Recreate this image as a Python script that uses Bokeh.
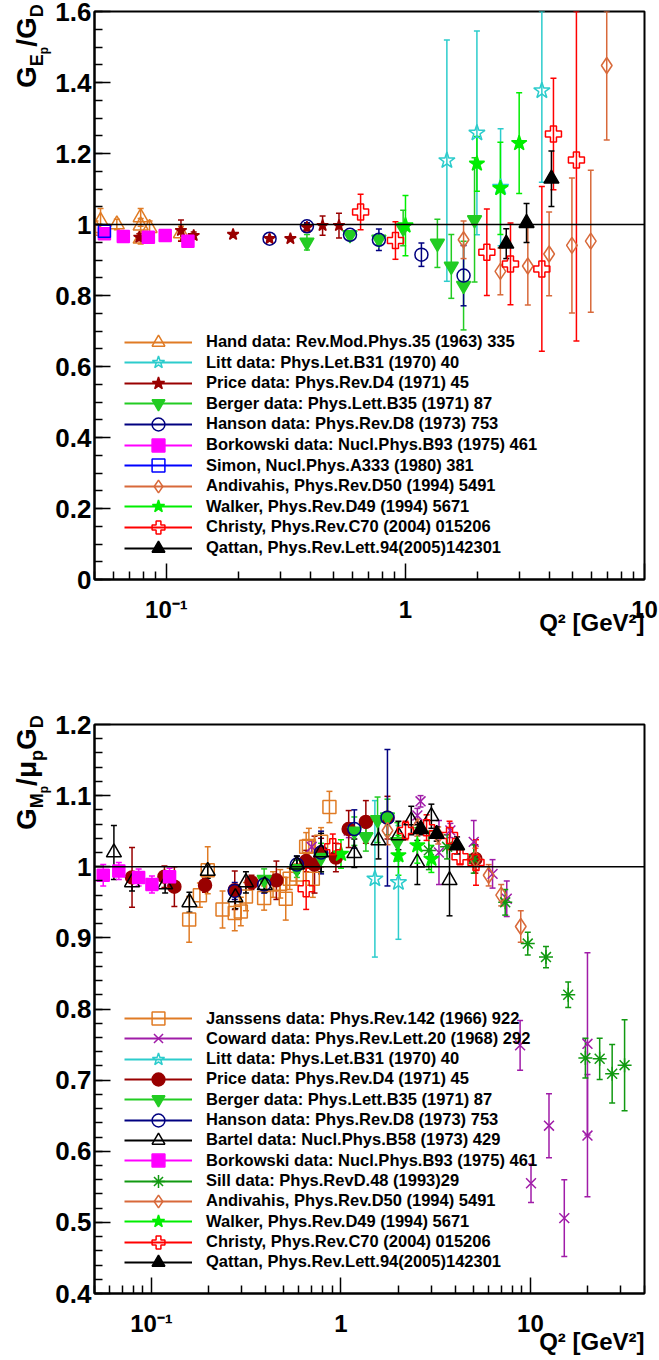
import numpy as np
from bokeh.plotting import figure
from bokeh.models import (Range1d, FixedTicker, Whisker, TeeHead, ColumnDataSource,
                          Legend, LegendItem, Span, Title, Div)
from bokeh.layouts import column, row
from bokeh.embed import file_html
from bokeh.resources import INLINE

FONT = "Liberation Sans"

# ---------------- G_E / G_D  (upper panel) ----------------
ge_hand_q2 = [0.0505, 0.053, 0.062, 0.078, 0.078, 0.078, 0.085, 0.115]
ge_hand = [0.99, 1.01, 1.00, 1.02, 0.997, 0.96, 0.99, 0.975]
ge_hand_err = [0.02, 0.035, 0.015, 0.025, 0.02, 0.015, 0.02, 0.02]

ge_litt_q2 = [1.49, 1.99, 2.50, 3.72]
ge_litt = [1.180, 1.258, 1.105, 1.377]
ge_litt_err = [0.34, 0.287, 0.165, 0.258]

ge_price_q2 = [0.077, 0.115, 0.130, 0.190, 0.270, 0.330, 0.387, 0.450, 0.527]
ge_price = [0.964, 0.983, 0.969, 0.972, 0.960, 0.960, 0.992, 0.997, 0.997]
ge_price_err = [0.01, 0.03, 0.01, 0.005, 0.005, 0.005, 0.01, 0.027, 0.035]

ge_berger_q2 = [0.387, 0.586, 0.774, 0.978, 1.36, 1.555, 1.75, 1.945]
ge_berger = [0.950, 0.971, 0.958, 0.990, 0.947, 0.882, 0.828, 1.013]
ge_berger_err = [0.022, 0.01, 0.015, 0.05, 0.068, 0.09, 0.125, 0.175]

ge_hanson_q2 = [0.270, 0.387, 0.586, 0.774, 1.166, 1.75]
ge_hanson = [0.960, 0.995, 0.971, 0.957, 0.915, 0.856]
ge_hanson_err = [0.005, 0.01, 0.008, 0.03, 0.033, 0.085]

ge_bork_q2 = [0.055, 0.066, 0.084, 0.0988, 0.123]
ge_bork = [0.974, 0.966, 0.964, 0.969, 0.953]
ge_bork_err = [0.005, 0.005, 0.005, 0.005, 0.005]

ge_simon_q2 = [0.055]
ge_simon = [0.981]
ge_simon_err = [0.005]

ge_andiv_q2 = [1.75, 2.495, 3.25, 3.99, 4.97, 5.96, 6.95]
ge_andiv = [0.957, 0.868, 0.883, 0.917, 0.941, 0.953, 1.448]
ge_andiv_err = [0.053, 0.066, 0.11, 0.118, 0.19, 0.2, 0.21]

ge_walker_q2 = [1.0, 1.99, 2.495, 2.99]
ge_walker = [0.997, 1.171, 1.102, 1.229]
ge_walker_err = [0.085, 0.077, 0.13, 0.142]

ge_christy_q2 = [0.649, 0.908, 2.19, 2.75, 3.72, 4.16, 5.19]
ge_christy = [1.035, 0.955, 0.922, 0.889, 0.875, 1.255, 1.182]
ge_christy_err = [0.05, 0.053, 0.122, 0.115, 0.232, 0.157, 0.51]

ge_qattan_q2 = [2.64, 3.21, 4.08]
ge_qattan = [0.946, 1.004, 1.129]
ge_qattan_err = [0.042, 0.055, 0.078]

# ---------------- G_M / (mu_p G_D)  (lower panel) ----------------
gm_jans_q2 = [0.158, 0.180, 0.198, 0.237, 0.275, 0.296, 0.315, 0.393, 0.438, 0.478,
              0.511, 0.536, 0.585, 0.655, 0.677, 0.71, 0.785, 0.869]
gm_jans = [0.926, 0.960, 0.995, 0.940, 0.935, 0.937, 0.958, 0.956, 0.975, 0.976,
           0.955, 0.983, 0.989, 1.028, 1.029, 0.983, 1.035, 1.084]
gm_jans_err = [0.032, 0.017, 0.033, 0.026, 0.025, 0.02, 0.02, 0.017, 0.018, 0.02,
               0.03, 0.015, 0.015, 0.02, 0.025, 0.026, 0.02, 0.022]

gm_coward_q2 = [0.70, 1.10, 2.53, 2.63, 3.29, 3.78, 5.02, 6.31, 7.5, 8.82, 10.07, 12.53, 15.09, 20.0, 20.0]
gm_coward = [1.028, 1.051, 1.072, 1.092, 1.020, 1.051, 1.035, 0.990, 0.955, 0.749, 0.555, 0.636, 0.506, 0.751, 0.622]
gm_coward_err = [0.008, 0.01, 0.01, 0.008, 0.045, 0.01, 0.03, 0.02, 0.025, 0.035, 0.027, 0.045, 0.054, 0.128, 0.086]

gm_litt_q2 = [1.51, 2.01]
gm_litt = [0.983, 0.978]
gm_litt_err = [0.11, 0.08]

gm_price_q2 = [0.0789, 0.117, 0.132, 0.1916, 0.275, 0.337, 0.456, 0.655, 0.725, 0.785, 0.94, 1.098, 1.353, 1.759, 5.12]
gm_price = [0.985, 0.986, 0.972, 0.974, 0.967, 0.978, 0.981, 1.008, 1.003, 1.020, 1.013, 1.053, 1.063, 1.069, 1.011]
gm_price_err = [0.042, 0.015, 0.028, 0.01, 0.027, 0.01, 0.027, 0.015, 0.04, 0.02, 0.02, 0.026, 0.03, 0.03, 0.02]

gm_berger_q2 = [0.393, 0.585, 0.785, 1.176, 1.353, 1.56, 1.759, 1.985]
gm_berger = [0.982, 0.997, 1.013, 1.050, 1.042, 1.066, 1.07, 1.035]
gm_berger_err = [0.015, 0.012, 0.02, 0.02, 0.02, 0.032, 0.025, 0.027]

gm_hanson_q2 = [0.275, 0.393, 0.585, 0.785, 1.176, 1.759]
gm_hanson = [0.966, 0.975, 1.003, 1.020, 1.053, 1.069]
gm_hanson_err = [0.012, 0.012, 0.012, 0.03, 0.027, 0.096]

gm_bartel_q2 = [0.0633, 0.0789, 0.118, 0.1585, 0.198, 0.277, 0.315, 0.396, 0.585, 0.785,
                1.176, 1.578, 2.01, 2.35, 2.53, 3.0, 3.74]
gm_bartel = [1.020, 0.978, 0.975, 0.950, 0.994, 0.957, 0.978, 0.974, 1.003, 1.020,
             1.019, 1.037, 1.044, 1.065, 1.006, 1.071, 0.981]
gm_bartel_err = [0.038, 0.012, 0.012, 0.014, 0.01, 0.016, 0.015, 0.01, 0.012, 0.027,
                 0.02, 0.026, 0.02, 0.02, 0.031, 0.017, 0.05]

gm_bork_q2 = [0.0556, 0.0672, 0.0855, 0.1005, 0.1245]
gm_bork = [0.988, 0.994, 0.985, 0.975, 0.986]
gm_bork_err = [0.015, 0.012, 0.012, 0.012, 0.012]

gm_sill_q2 = [2.91, 3.63, 5.02, 7.36, 9.68, 12.08, 15.83, 19.5, 23.2, 27.0, 31.4]
gm_sill = [1.023, 1.028, 1.011, 0.950, 0.892, 0.873, 0.820, 0.731, 0.730, 0.709, 0.721]
gm_sill_err = [0.027, 0.017, 0.02, 0.018, 0.016, 0.015, 0.018, 0.028, 0.029, 0.041, 0.064]

gm_andiv_q2 = [1.76, 2.53, 3.26, 5.12, 6.02, 7.01, 8.89]
gm_andiv = [1.051, 1.055, 1.044, 1.011, 0.988, 0.960, 0.916]
gm_andiv_err = [0.02, 0.012, 0.012, 0.015, 0.015, 0.015, 0.022]

gm_walker_q2 = [1.0, 2.01, 2.53, 3.0]
gm_walker = [1.018, 1.016, 1.03, 1.011]
gm_walker_err = [0.02, 0.028, 0.025, 0.019]

gm_christy_q2 = [0.655, 0.905, 2.19, 2.83, 3.74, 4.25, 5.16]
gm_christy = [0.969, 1.028, 1.051, 1.055, 1.044, 1.014, 1.006]
gm_christy_err = [0.029, 0.018, 0.013, 0.018, 0.02, 0.01, 0.032]

gm_qattan_q2 = [2.64, 3.2, 4.1]
gm_qattan = [1.053, 1.046, 1.03]
gm_qattan_err = [0.008, 0.01, 0.012]

# ---------------- axes ----------------
x_major = [0.1, 1, 10]
x_major_labels = ["10\u207b\u00b9", "1", "10"]
x_minor = [k * d for d in (0.01, 0.1, 1, 10) for k in range(2, 10)]
x_title = "Q\u00b2 [GeV\u00b2]"

ge_y_ticks = [0, 0.2, 0.4, 0.6, 0.8, 1, 1.2, 1.4, 1.6]
ge_y_labels = ["0", "0.2", "0.4", "0.6", "0.8", "1", "1.2", "1.4", "1.6"]
ge_y_minor = [i * 0.05 for i in range(33)]

gm_y_ticks = [0.4, 0.5, 0.6, 0.7, 0.8, 0.9, 1, 1.1, 1.2]
gm_y_labels = ["0.4", "0.5", "0.6", "0.7", "0.8", "0.9", "1", "1.1", "1.2"]
gm_y_minor = [0.4 + i * 0.02 for i in range(41)]

# y titles (HTML, with nested subscripts)
ge_y_title = ("G<sub style='font-size:18px'>E<sub style='font-size:12px'>p</sub></sub>"
              "/G<sub style='font-size:18px'>D</sub>")
gm_y_title = ("G<sub style='font-size:18px'>M<sub style='font-size:12px'>p</sub></sub>"
              "/\u03bc<sub style='font-size:18px'>p</sub>"
              "G<sub style='font-size:18px'>D</sub>")

# colours
C_HAND = "#e07b24"
C_JANS = "#e07b24"
C_LITT = "#2ccccc"
C_PRICE = "#990000"
C_BERGER = "#22cc22"
C_HANSON = "#000080"
C_BORK = "#ff00ff"
C_SIMON = "#0000ff"
C_ANDIV = "#d8693a"
C_WALKER = "#00ee00"
C_CHRISTY = "#ff0000"
C_QATTAN = "#000000"
C_BARTEL = "#000000"
C_COWARD = "#a01ca8"
C_SILL = "#119911"

H = 680          # height of each panel
TW = 52          # width of the strip holding the rotated y title
PW = 659 - TW    # width of each plot


def make_fig(x_end, y_lo, y_hi, y_ticks, y_labels, y_minor, top, bottom, title_standoff):
    p = figure(width=PW, height=H, x_axis_type="log",
               x_range=Range1d(0.05, x_end), y_range=Range1d(y_lo, y_hi),
               output_backend="svg", toolbar_location=None,
               min_border_left=92 - TW, min_border_right=15,
               min_border_top=top, min_border_bottom=bottom)
    p.xgrid.visible = False
    p.ygrid.visible = False
    p.outline_line_color = "black"
    p.outline_line_width = 2
    p.outline_line_alpha = 1

    p.xaxis.ticker = FixedTicker(ticks=x_major, minor_ticks=x_minor)
    p.xaxis.major_label_overrides = dict(zip(x_major, x_major_labels))
    p.yaxis.ticker = FixedTicker(ticks=y_ticks, minor_ticks=y_minor)
    p.yaxis.major_label_overrides = dict(zip(y_ticks, y_labels))
    for ax in (p.xaxis, p.yaxis):
        ax.axis_line_width = 2
        ax.axis_line_color = "black"
        ax.major_tick_in = 16
        ax.major_tick_out = 0
        ax.minor_tick_in = 8
        ax.minor_tick_out = 0
        ax.major_tick_line_width = 1.5
        ax.minor_tick_line_width = 1.5
        ax.major_label_text_font = FONT
        ax.major_label_text_font_style = "bold"
        ax.major_label_text_color = "black"
    p.xaxis.major_label_text_font_size = "24px"
    p.yaxis.major_label_text_font_size = "26px"
    p.xaxis.major_label_standoff = 16
    p.yaxis.major_label_standoff = 3

    p.add_layout(Title(text=x_title, align="right", vertical_align="top", text_font=FONT,
                       text_font_style="bold", text_font_size="24px", text_color="black",
                       standoff=title_standoff, offset=0), "below")
    p.add_layout(Span(location=1, dimension="width", line_color="black", line_width=1.5))
    return p


def html_title(inner, top):
    """Rotated y title written as HTML, reading upwards from `top` px."""
    html = ("<div style=\"position:relative; left:13px; top:{}px; width:max-content; "
            "transform-origin:0 0; transform:rotate(-90deg); white-space:nowrap; "
            "font-family:'Liberation Sans'; font-weight:bold; font-size:28px; "
            "line-height:28px; color:#000\">{}</div>").format(top, inner)
    return Div(text=html, width=TW, height=H, margin=0, styles={"overflow": "visible"})


def series(p, q2, val, err, color, marker, size, filled, y_lo, y_hi):
    q2 = np.asarray(q2, float)
    val = np.asarray(val, float)
    err = np.asarray(err, float)
    src = ColumnDataSource(dict(x=q2, y=val,
                                lo=np.clip(val - err, y_lo, y_hi),
                                hi=np.clip(val + err, y_lo, y_hi)))
    p.add_layout(Whisker(source=src, base="x", upper="hi", lower="lo", dimension="height",
                         line_color=color, line_width=1.5,
                         upper_head=TeeHead(size=6, line_color=color, line_width=1.5),
                         lower_head=TeeHead(size=6, line_color=color, line_width=1.5)))
    r = p.scatter("x", "y", source=src, marker=marker, size=size, line_color=color,
                  line_width=1.5, fill_color=color if filled else None)
    # line sample for the legend only (nothing to draw in the frame)
    lg = p.line(x=[np.nan, np.nan], y=[np.nan, np.nan], line_color=color, line_width=2)
    return [lg, r]


def add_legend(p, labels, rends, frame_bottom, first_row, pitch):
    # one single-row legend per entry, so rows can sit closer than the marker height
    for i, (lab, rs) in enumerate(zip(labels, rends)):
        centre = first_row + pitch * i
        leg = Legend(items=[LegendItem(label=lab, renderers=rs)],
                     location=(30, frame_bottom - centre - 16),
                     glyph_width=68, glyph_height=32, label_height=18,
                     label_standoff=14, spacing=0, padding=0, margin=0,
                     border_line_alpha=0, background_fill_alpha=0,
                     label_text_font=FONT, label_text_font_style="bold",
                     label_text_font_size="16.5px", label_text_color="black")
        p.add_layout(leg)


# ---------------- upper panel ----------------
p1 = make_fig(10, 0, 1.6, ge_y_ticks, ge_y_labels, ge_y_minor, 11, 101, -34)
Y0, Y1 = 0, 1.6
r1 = [
    series(p1, ge_hand_q2, ge_hand, ge_hand_err, C_HAND, "triangle", 15, False, Y0, Y1),
    series(p1, ge_litt_q2, ge_litt, ge_litt_err, C_LITT, "star", 17, False, Y0, Y1),
    series(p1, ge_price_q2, ge_price, ge_price_err, C_PRICE, "star", 12, True, Y0, Y1),
    series(p1, ge_berger_q2, ge_berger, ge_berger_err, C_BERGER, "inverted_triangle", 14, True, Y0, Y1),
    series(p1, ge_hanson_q2, ge_hanson, ge_hanson_err, C_HANSON, "circle", 13, False, Y0, Y1),
    series(p1, ge_bork_q2, ge_bork, ge_bork_err, C_BORK, "square", 12, True, Y0, Y1),
    series(p1, ge_simon_q2, ge_simon, ge_simon_err, C_SIMON, "square", 12, False, Y0, Y1),
    series(p1, ge_andiv_q2, ge_andiv, ge_andiv_err, C_ANDIV, "diamond", 16, False, Y0, Y1),
    series(p1, ge_walker_q2, ge_walker, ge_walker_err, C_WALKER, "star", 16, True, Y0, Y1),
    series(p1, ge_christy_q2, ge_christy, ge_christy_err, C_CHRISTY, "plus", 16, False, Y0, Y1),
    series(p1, ge_qattan_q2, ge_qattan, ge_qattan_err, C_QATTAN, "triangle", 15, True, Y0, Y1),
]
ge_legend = [
    "Hand data: Rev.Mod.Phys.35 (1963) 335",
    "Litt data: Phys.Let.B31 (1970) 40",
    "Price data: Phys.Rev.D4 (1971) 45",
    "Berger data: Phys.Lett.B35 (1971) 87",
    "Hanson data: Phys.Rev.D8 (1973) 753",
    "Borkowski data: Nucl.Phys.B93 (1975) 461",
    "Simon, Nucl.Phys.A333 (1980) 381",
    "Andivahis, Phys.Rev.D50 (1994) 5491",
    "Walker, Phys.Rev.D49 (1994) 5671",
    "Christy, Phys.Rev.C70 (2004) 015206",
    "Qattan, Phys.Rev.Lett.94(2005)142301",
]
add_legend(p1, ge_legend, r1, 579, 341.5, 20.6)
t1 = html_title(ge_y_title, 88)

# ---------------- lower panel ----------------
p2 = make_fig(40, 0.4, 1.2, gm_y_ticks, gm_y_labels, gm_y_minor, 44, 67, -24)
Y0, Y1 = 0.4, 1.2
r2 = [
    series(p2, gm_jans_q2, gm_jans, gm_jans_err, C_JANS, "square", 13, False, Y0, Y1),
    series(p2, gm_coward_q2, gm_coward, gm_coward_err, C_COWARD, "x", 14, False, Y0, Y1),
    series(p2, gm_litt_q2, gm_litt, gm_litt_err, C_LITT, "star", 17, False, Y0, Y1),
    series(p2, gm_price_q2, gm_price, gm_price_err, C_PRICE, "circle", 13, True, Y0, Y1),
    series(p2, gm_berger_q2, gm_berger, gm_berger_err, C_BERGER, "inverted_triangle", 14, True, Y0, Y1),
    series(p2, gm_hanson_q2, gm_hanson, gm_hanson_err, C_HANSON, "circle", 13, False, Y0, Y1),
    series(p2, gm_bartel_q2, gm_bartel, gm_bartel_err, C_BARTEL, "triangle", 15, False, Y0, Y1),
    series(p2, gm_bork_q2, gm_bork, gm_bork_err, C_BORK, "square", 12, True, Y0, Y1),
    series(p2, gm_sill_q2, gm_sill, gm_sill_err, C_SILL, "asterisk", 14, False, Y0, Y1),
    series(p2, gm_andiv_q2, gm_andiv, gm_andiv_err, C_ANDIV, "diamond", 16, False, Y0, Y1),
    series(p2, gm_walker_q2, gm_walker, gm_walker_err, C_WALKER, "star", 16, True, Y0, Y1),
    series(p2, gm_christy_q2, gm_christy, gm_christy_err, C_CHRISTY, "plus", 16, False, Y0, Y1),
    series(p2, gm_qattan_q2, gm_qattan, gm_qattan_err, C_QATTAN, "triangle", 15, True, Y0, Y1),
]
gm_legend = [
    "Janssens data: Phys.Rev.142 (1966) 922",
    "Coward data: Phys.Rev.Lett.20 (1968) 292",
    "Litt data: Phys.Let.B31 (1970) 40",
    "Price data: Phys.Rev.D4 (1971) 45",
    "Berger data: Phys.Lett.B35 (1971) 87",
    "Hanson data: Phys.Rev.D8 (1973) 753",
    "Bartel data: Nucl.Phys.B58 (1973) 429",
    "Borkowski data: Nucl.Phys.B93 (1975) 461",
    "Sill data: Phys.RevD.48 (1993)29",
    "Andivahis, Phys.Rev.D50 (1994) 5491",
    "Walker, Phys.Rev.D49 (1994) 5671",
    "Christy, Phys.Rev.C70 (2004) 015206",
    "Qattan, Phys.Rev.Lett.94(2005)142301",
]
add_legend(p2, gm_legend, r2, 613, 338, 20.33)
t2 = html_title(gm_y_title, 150)

layout = column(row(t1, p1, spacing=0), row(t2, p2, spacing=0), spacing=0)
open("out.html", "w").write(file_html(layout, INLINE))
